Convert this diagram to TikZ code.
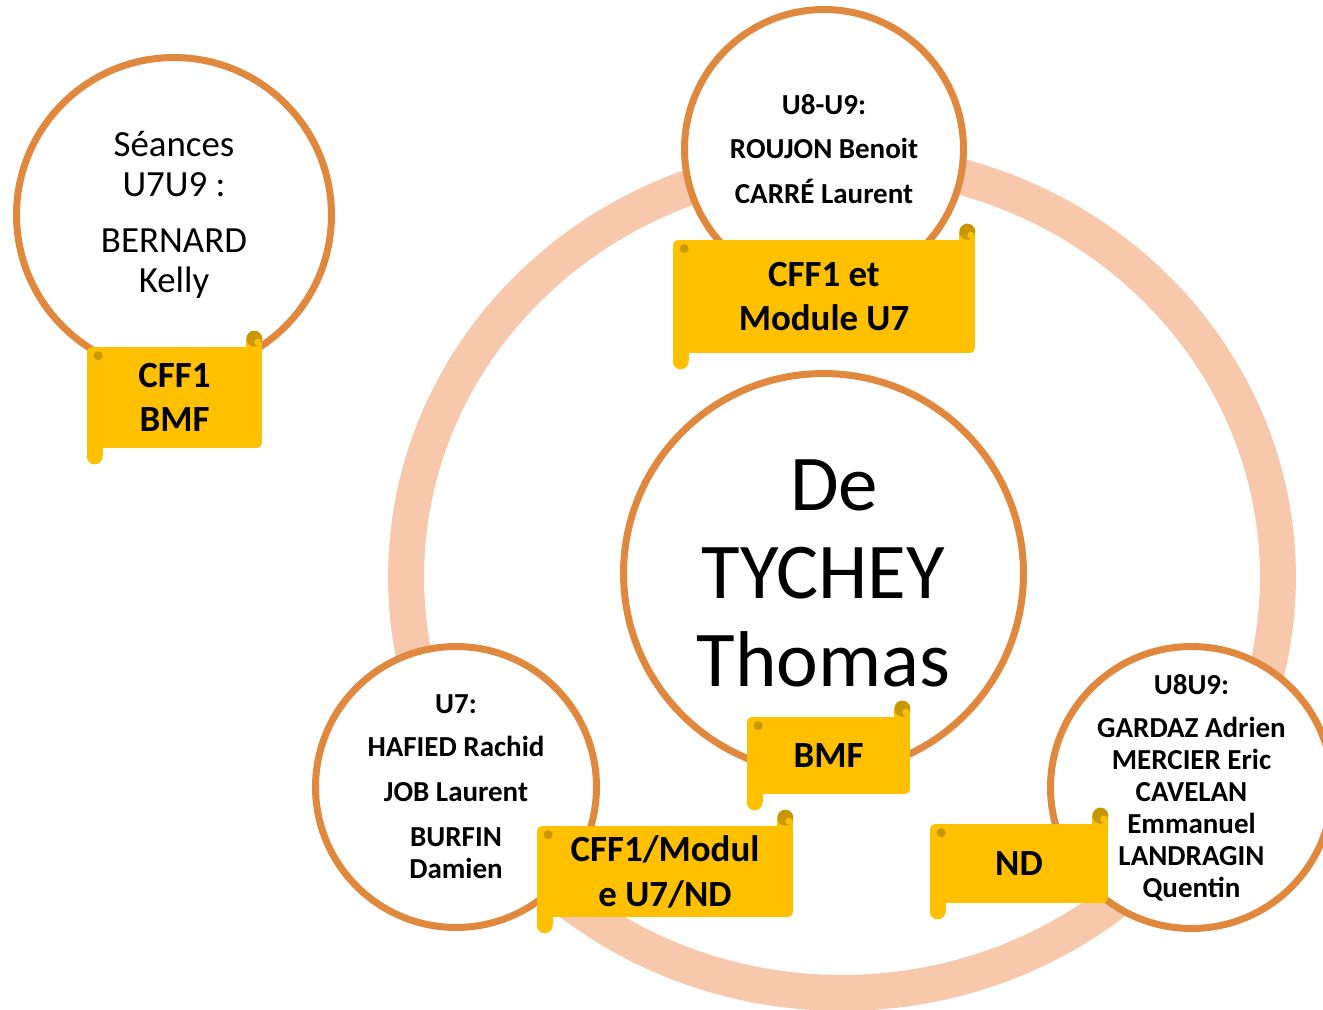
\documentclass[tikz,border=0pt]{standalone}
\usepackage{fontspec}
\setmainfont{Carlito}
\usepackage{tikz}

\definecolor{ringpeach}{HTML}{F8C8AC}
\definecolor{rimorange}{HTML}{E0883E}
\definecolor{scrollyellow}{HTML}{FFC000}
\definecolor{scrolldark}{HTML}{C99700}

\begin{document}
\begin{tikzpicture}[
        x=0.02cm, y=-0.02cm,
        every node/.style={align=center},
        who/.style={circle, draw=rimorange, line width=0.14cm, fill=white, inner sep=0pt},
        names/.style={font=\bfseries\fontsize{16.5}{18.2}\selectfont},
        banner/.style={rectangle, fill=scrollyellow, rounded corners=0.1cm, inner sep=0pt, font=\bfseries\fontsize{21}{25.5}\selectfont}
    ]
        \useasboundingbox (0,0) rectangle (1323,1010);

        % Ring
        \draw[ringpeach, line width=0.72cm] (842,577) ellipse [x radius=8.72cm, y radius=8.32cm];

        % Circles
        \node[who, minimum size=6.3cm] (kelly) at (174,215) {};
        \node[who, minimum size=5.58cm] (roujon) at (824,149) {};
        \node[who, minimum size=8cm] (tychey) at (823.5,573.5) {};
        \node[who, minimum size=5.62cm] (hafied) at (456,787) {};
        \node[who, minimum size=5.64cm] (gardaz) at (1191.5,787.5) {};

        % Circle texts
        \node[font=\fontsize{21}{22.7}\selectfont] (kellytxt) at (kelly) {Séances\\U7U9 :\\[9pt]BERNARD\\Kelly};
        \node[font=\bfseries\fontsize{16.5}{25.5}\selectfont] (roujontxt) at (roujon) {U8-U9:\\ROUJON Benoit\\CARRÉ Laurent};
        \node[font=\fontsize{45}{50}\selectfont] (tycheytxt) at (tychey) {\hspace*{0.27em}De\\TYCHEY\\Thomas};
        \node[names] (hafiedtxt) at (hafied) {U7:\\[6.2pt]HAFIED Rachid\\[7.4pt]JOB Laurent\\[7.4pt]BURFIN\\Damien};
        \node[names] (gardaztxt) at (gardaz) {U8U9:\\[6.2pt]GARDAZ Adrien\\MERCIER Eric\\CAVELAN\\Emmanuel\\LANDRAGIN\\Quentin};

        % Scrolls
        \node[banner, minimum width=3.5cm, minimum height=2.02cm] (cffbmf) at (174.5,397.5) {CFF1\\BMF};
        \node[banner, minimum width=6.04cm, minimum height=2.26cm] (cffmod) at (824,296.5) {CFF1 et\\Module U7};
        \node[banner, minimum width=3.26cm, minimum height=1.54cm] (bmf) at (828.5,755.5) {BMF};
        \node[banner, minimum width=5.12cm, minimum height=1.82cm] (cffnd) at (665,871.5) {CFF1/Modul\\e U7/ND};
        \node[banner, minimum width=3.56cm, minimum height=1.58cm] (nd) at (1019,863.5) {ND};

        % Scroll ends
        \foreach \s in {cffbmf, cffmod, bmf, cffnd, nd} {
            \fill[scrollyellow] ([xshift=-0.32cm, yshift=-0.16cm]\s.north east) rectangle ([yshift=0.16cm]\s.north east);
            \fill[scrolldark] ([xshift=-0.16cm, yshift=0.16cm]\s.north east) circle (0.16cm);
            \fill[scrollyellow] ([xshift=-0.09cm, yshift=0.09cm]\s.north east) circle (0.07cm);
            \fill[scrolldark] ([xshift=0.23cm, yshift=-0.18cm]\s.north west) circle (0.09cm);
            \fill[scrollyellow] ([yshift=0.16cm]\s.south west) rectangle ([xshift=0.32cm, yshift=-0.16cm]\s.south west);
            \fill[scrollyellow] ([xshift=0.16cm, yshift=-0.16cm]\s.south west) circle (0.16cm);
        }
    \end{tikzpicture}
\end{document}
